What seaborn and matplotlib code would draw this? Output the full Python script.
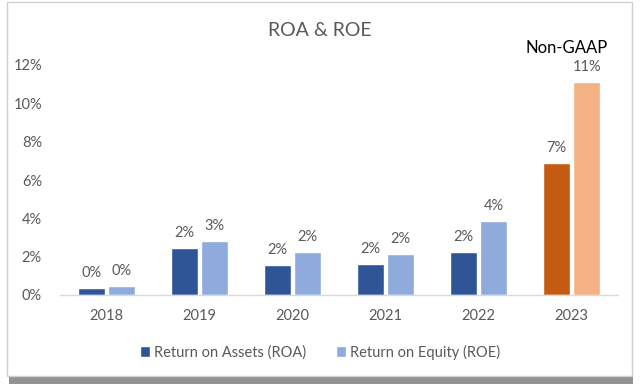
import matplotlib
matplotlib.use("Agg")
import matplotlib.pyplot as plt
import seaborn as sns
import pandas as pd
from matplotlib.patches import Rectangle, Patch

years = ["2018", "2019", "2020", "2021", "2022", "2023"]
roa = [0.37, 2.45, 1.57, 1.62, 2.24, 6.89]
roe = [0.47, 2.82, 2.24, 2.14, 3.86, 11.1]
series_names = ["Return on Assets (ROA)", "Return on Equity (ROE)"]
y_ticks = [0, 2, 4, 6, 8, 10, 12]

df = pd.DataFrame({
    "year": years * 2,
    "value": roa + roe,
    "series": [series_names[0]] * len(years) + [series_names[1]] * len(years),
})

sns.set_theme(style="white")
plt.rcParams["font.family"] = ["Lato", "DejaVu Sans"]

c_roa, c_roe = "#2F5597", "#8FAADC"
c_roa_hi, c_roe_hi = "#C55A11", "#F4B183"
grey = "#595959"

fig = plt.figure(figsize=(6.4, 3.9), dpi=100)
fig.patch.set_facecolor("white")

# card shadow and border
fig.patches.append(Rectangle((9 / 640, 1 - 384 / 390), 624 / 640, 380 / 390,
                             transform=fig.transFigure, facecolor="#808080",
                             edgecolor="none", alpha=0.85, zorder=-3))
fig.patches.append(Rectangle((7 / 640, 1 - 376 / 390), 625 / 640, 374 / 390,
                             transform=fig.transFigure, facecolor="white",
                             edgecolor="#d0d0d0", linewidth=1.0, zorder=-2))

ax = fig.add_axes([60 / 640, 1 - 295 / 390, 558 / 640, 230 / 390])
ax.patch.set_alpha(0)

sns.barplot(data=df, x="year", y="value", hue="series", order=years,
            hue_order=series_names, palette=[c_roa, c_roe], width=0.65,
            gap=0.12, ax=ax, legend=False, saturation=1)

cont_roa, cont_roe = ax.containers[0], ax.containers[1]
cont_roa[-1].set_facecolor(c_roa_hi)
cont_roe[-1].set_facecolor(c_roe_hi)

for cont, vals in ((cont_roa, roa), (cont_roe, roe)):
    ax.bar_label(cont, labels=[f"{v:.0f}%" for v in vals], padding=6,
                 fontsize=10.5, color=grey)

ax.set_ylim(0, 12)
ax.set_yticks(y_ticks)
ax.set_yticklabels([f"{t}%" for t in y_ticks])
ax.set_xlabel("")
ax.set_ylabel("")
for s in ["top", "right", "left"]:
    ax.spines[s].set_visible(False)
ax.spines["bottom"].set_color("#d9d9d9")
ax.spines["bottom"].set_linewidth(1.0)
ax.tick_params(axis="both", length=0, labelsize=10.5, labelcolor=grey)
ax.tick_params(axis="x", pad=10)
ax.tick_params(axis="y", pad=13)

fig.text(0.5, 1 - 30 / 390, "ROA & ROE", ha="center", va="center",
         fontsize=14, color=grey)
fig.text(567 / 640, 1 - 48 / 390, "Non-GAAP", ha="center", va="center",
         fontsize=12, color="black")

handles = [Patch(facecolor=c_roa), Patch(facecolor=c_roe)]
leg = fig.legend(handles, series_names, loc="center",
                 bbox_to_anchor=(0.5, 1 - 352 / 390), ncol=2, frameon=False,
                 fontsize=10.5, handlelength=0.7, handleheight=0.7,
                 handletextpad=0.3, columnspacing=2.0)
for t in leg.get_texts():
    t.set_color(grey)

fig.savefig("out.png", dpi=100, facecolor="white")
